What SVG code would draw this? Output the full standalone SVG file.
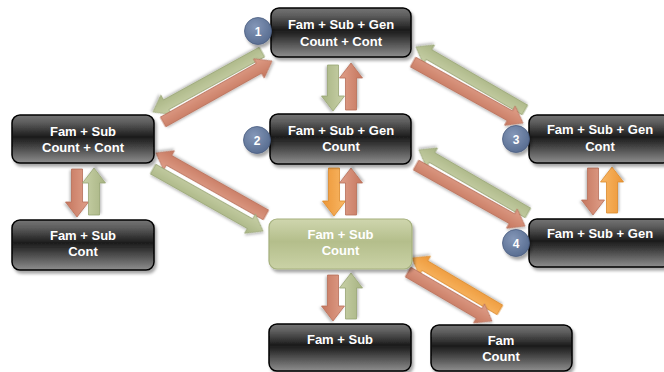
<svg xmlns="http://www.w3.org/2000/svg" width="664" height="372" viewBox="0 0 664 372">
<defs>
<linearGradient id="gBox" x1="0" y1="0" x2="0" y2="1">
<stop offset="0" stop-color="#747474"/>
<stop offset="0.15" stop-color="#5e5e5e"/>
<stop offset="0.45" stop-color="#1c1c1c"/>
<stop offset="0.55" stop-color="#2c2c2c"/>
<stop offset="1" stop-color="#8e8e8e"/>
</linearGradient>
<linearGradient id="gGreenBox" x1="0" y1="0" x2="0" y2="1">
<stop offset="0" stop-color="#cfd6ae"/>
<stop offset="0.45" stop-color="#b4be8b"/>
<stop offset="1" stop-color="#cad2a6"/>
</linearGradient>
<linearGradient id="gGreen" x1="0" y1="0" x2="0" y2="1">
<stop offset="0" stop-color="#c9d1a8"/>
<stop offset="1" stop-color="#a7b382"/>
</linearGradient>
<linearGradient id="gRed" x1="0" y1="0" x2="0" y2="1">
<stop offset="0" stop-color="#e0a08a"/>
<stop offset="1" stop-color="#c5765e"/>
</linearGradient>
<linearGradient id="gOrange" x1="0" y1="0" x2="0" y2="1">
<stop offset="0" stop-color="#f9b866"/>
<stop offset="1" stop-color="#ec9636"/>
</linearGradient>
<radialGradient id="gBadge" cx="0.4" cy="0.35" r="0.7">
<stop offset="0" stop-color="#8497b8"/>
<stop offset="1" stop-color="#566b8f"/>
</radialGradient>
<filter id="sh" x="-20%" y="-20%" width="150%" height="160%">
<feDropShadow dx="2" dy="3" stdDeviation="1.8" flood-color="#000" flood-opacity="0.35"/>
</filter>
<filter id="shA" x="-20%" y="-50%" width="150%" height="200%">
<feDropShadow dx="1.5" dy="1.5" stdDeviation="1" flood-color="#000" flood-opacity="0.25"/>
</filter>
</defs>
<style>
.box{fill:url(#gBox);stroke:#000;stroke-width:1.5;filter:url(#sh)}
.gbox{fill:url(#gGreenBox);stroke:#a5b07d;stroke-width:1.2;filter:url(#sh)}
.t{font-family:"Liberation Sans",Arial,sans-serif;font-weight:bold;font-size:13px;fill:#fff;text-anchor:middle}
.bt{font-family:"Liberation Sans",Arial,sans-serif;font-weight:bold;font-size:12px;fill:#fff;text-anchor:middle}
.badge{fill:url(#gBadge);stroke:#4a5d80;stroke-width:0.8;filter:url(#sh)}
.ag{fill:url(#gGreen);stroke:#98a474;stroke-width:0.8;filter:url(#shA)}
.ar{fill:url(#gRed);stroke:#b76e58;stroke-width:0.8;filter:url(#shA)}
.ao{fill:url(#gOrange);stroke:#dc8a2c;stroke-width:0.8;filter:url(#shA)}
</style>

<g id="connectors">
<path class="ag" transform="translate(262,52) rotate(151.17)" d="M0,-5.5 H109.4 V-11 L124.4,0 L109.4,11 V5.5 H0 Z"/>
<path class="ar" transform="translate(163,122) rotate(-29.23)" d="M0,-5.5 H109.9 V-11 L124.9,0 L109.9,11 V5.5 H0 Z"/>
<path class="ar" transform="translate(266,215) rotate(-150.59)" d="M0,-5.5 H111.3 V-11 L126.3,0 L111.3,11 V5.5 H0 Z"/>
<path class="ag" transform="translate(153,169) rotate(29.41)" d="M0,-5.5 H111.3 V-11 L126.3,0 L111.3,11 V5.5 H0 Z"/>
<path class="ag" transform="translate(525,110) rotate(-149.97)" d="M0,-5.5 H110.9 V-11 L125.9,0 L110.9,11 V5.5 H0 Z"/>
<path class="ar" transform="translate(413,62) rotate(29.01)" d="M0,-5.5 H110.8 V-11 L125.8,0 L110.8,11 V5.5 H0 Z"/>
<path class="ag" transform="translate(528,213) rotate(-149.97)" d="M0,-5.5 H110.9 V-11 L125.9,0 L110.9,11 V5.5 H0 Z"/>
<path class="ar" transform="translate(416,165) rotate(29.23)" d="M0,-5.5 H109.9 V-11 L124.9,0 L109.9,11 V5.5 H0 Z"/>
<path class="ao" transform="translate(500,310) rotate(-149.42)" d="M0,-5.5 H87.2 V-11 L102.2,0 L87.2,11 V5.5 H0 Z"/>
<path class="ar" transform="translate(408,272) rotate(30.26)" d="M0,-5.5 H82.2 V-11 L97.2,0 L82.2,11 V5.5 H0 Z"/>

<path class="ag" transform="translate(333,65) rotate(90)" d="M0,-5.5 H31 V-11.5 L46,0 L31,11.5 V5.5 H0 Z"/>
<path class="ar" transform="translate(351,110) rotate(-90)" d="M0,-5.5 H32 V-11.5 L47,0 L32,11.5 V5.5 H0 Z"/>
<path class="ao" transform="translate(334,168) rotate(90)" d="M0,-5.5 H33 V-11.5 L48,0 L33,11.5 V5.5 H0 Z"/>
<path class="ar" transform="translate(351,215) rotate(-90)" d="M0,-5.5 H32 V-11.5 L47,0 L32,11.5 V5.5 H0 Z"/>
<path class="ar" transform="translate(77,169) rotate(90)" d="M0,-5.5 H33 V-11.5 L48,0 L33,11.5 V5.5 H0 Z"/>
<path class="ag" transform="translate(94,215) rotate(-90)" d="M0,-5.5 H32 V-11.5 L47,0 L32,11.5 V5.5 H0 Z"/>
<path class="ar" transform="translate(593,168) rotate(90)" d="M0,-5.5 H32 V-11.5 L47,0 L32,11.5 V5.5 H0 Z"/>
<path class="ao" transform="translate(612,213) rotate(-90)" d="M0,-5.5 H31 V-11.5 L46,0 L31,11.5 V5.5 H0 Z"/>
<path class="ar" transform="translate(333,275) rotate(90)" d="M0,-5.5 H31 V-11.5 L46,0 L31,11.5 V5.5 H0 Z"/>
<path class="ag" transform="translate(351,319) rotate(-90)" d="M0,-5.5 H31 V-11.5 L46,0 L31,11.5 V5.5 H0 Z"/>
</g>

<g id="node1">
<rect class="box" x="271" y="8" width="140" height="49" rx="8"/>
<text class="t" x="341" y="29">Fam + Sub + Gen</text>
<text class="t" x="341" y="46">Count + Cont</text>
<circle class="badge" cx="258" cy="31" r="13.5"/>
<text class="bt" x="258" y="35.5">1</text>
</g>

<g id="nodeLeft">
<rect class="box" x="12" y="115" width="142" height="48" rx="8"/>
<text class="t" x="83" y="136">Fam + Sub</text>
<text class="t" x="83" y="152">Count + Cont</text>
</g>

<g id="nodeLeftBottom">
<rect class="box" x="12" y="220" width="142" height="50" rx="8"/>
<text class="t" x="83" y="240">Fam + Sub</text>
<text class="t" x="83" y="256">Cont</text>
</g>

<g id="node2">
<rect class="box" x="270" y="114" width="141" height="50" rx="8"/>
<text class="t" x="341" y="135">Fam + Sub + Gen</text>
<text class="t" x="341" y="151">Count</text>
<circle class="badge" cx="257" cy="140" r="13.5"/>
<text class="bt" x="257" y="144.5">2</text>
</g>

<g id="node3">
<rect class="box" x="529" y="115" width="142" height="48" rx="8"/>
<text class="t" x="600" y="134">Fam + Sub + Gen</text>
<text class="t" x="600" y="151">Cont</text>
<circle class="badge" cx="516" cy="139" r="13.5"/>
<text class="bt" x="516" y="143.5">3</text>
</g>

<g id="node4">
<rect class="box" x="529" y="219" width="142" height="48" rx="8"/>
<text class="t" x="600" y="238">Fam + Sub + Gen</text>
<circle class="badge" cx="516" cy="243" r="13.5"/>
<text class="bt" x="516" y="247.5">4</text>
</g>

<g id="nodeGreen">
<rect class="gbox" x="269" y="219" width="143" height="50" rx="8"/>
<text class="t" x="340.5" y="239">Fam + Sub</text>
<text class="t" x="340.5" y="255">Count</text>
</g>

<g id="nodeBottom">
<rect class="box" x="269" y="324" width="142" height="47" rx="8"/>
<text class="t" x="340" y="344">Fam + Sub</text>
</g>

<g id="nodeFamCount">
<rect class="box" x="431" y="325" width="141" height="46" rx="8"/>
<text class="t" x="501" y="345">Fam</text>
<text class="t" x="501" y="361">Count</text>
</g>
</svg>
